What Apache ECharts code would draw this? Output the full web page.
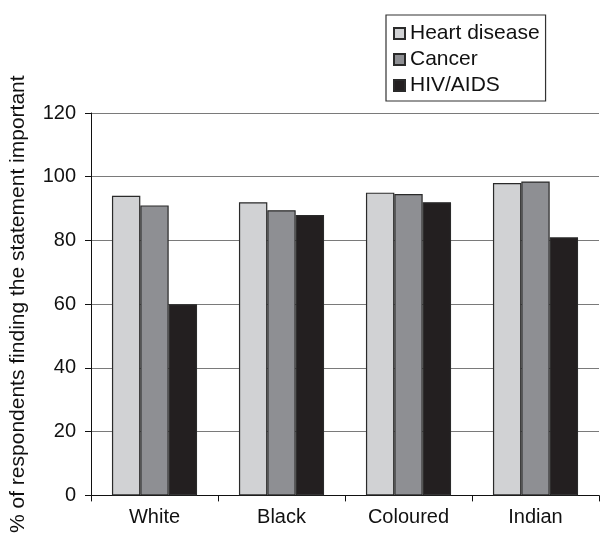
<!DOCTYPE html>
<html><head><meta charset="utf-8">
<script src="https://cdn.jsdelivr.net/npm/echarts@6/dist/echarts.min.js"></script>
<style>html,body{margin:0;padding:0;background:#fff}#c{width:600px;height:536px}</style>
</head><body><div id="c"></div>
<script>
const categories = ['White', 'Black', 'Coloured', 'Indian'];
const heartDisease = [94, 92, 95, 98];
const cancer = [91, 89.5, 94.6, 98.5];
const hivAids = [60, 88, 92, 81];
const yTicks = [0, 20, 40, 60, 80, 100, 120];

const chart = echarts.init(document.getElementById('c'));
const font = 'Liberation Sans, Arial, sans-serif';
function bar(name, data, color) {
  return { name, type: 'bar', data, barGap: '0%', barCategoryGap: '33%',
    itemStyle: { color, borderColor: '#2a2a2a', borderWidth: 1.2 } };
}
chart.setOption({
  animation: false,
  grid: { left: 88, right: 1, top: 113, bottom: 38 },
  legend: {
    orient: 'vertical', left: 386, top: 15, itemWidth: 11, itemHeight: 11, itemGap: 5,
    padding: [8, 6, 5, 7], borderColor: '#333', borderWidth: 1.2, icon: 'rect',
    textStyle: { fontFamily: font, fontSize: 21, color: '#111' },
    data: ['Heart disease', 'Cancer', 'HIV/AIDS']
  },
  xAxis: {
    type: 'category', data: categories,
    axisLine: { lineStyle: { color: '#111', width: 1 } },
    axisTick: { show: true, alignWithLabel: false, length: 6, lineStyle: { color: '#111' } },
    axisLabel: { fontFamily: font, fontSize: 20, color: '#111', margin: 12 }
  },
  yAxis: {
    type: 'value', min: yTicks[0], max: yTicks[yTicks.length - 1], interval: 20,
    name: '% of respondents finding the statement important',
    nameLocation: 'middle', nameGap: 62, nameRotate: 90,
    nameTextStyle: { fontFamily: font, fontSize: 21, color: '#111' },
    axisLine: { show: true, lineStyle: { color: '#111', width: 1 } },
    axisTick: { show: true, inside: false, length: 6, lineStyle: { color: '#111' } },
    axisLabel: { fontFamily: font, fontSize: 20, color: '#111', margin: 15 },
    splitLine: { lineStyle: { color: '#7a7a7a', width: 1.2 } }
  },
  series: [
    bar('Heart disease', heartDisease, '#d1d2d4'),
    bar('Cancer', cancer, '#8e8f93'),
    bar('HIV/AIDS', hivAids, '#231f20')
  ]
});
</script></body></html>
